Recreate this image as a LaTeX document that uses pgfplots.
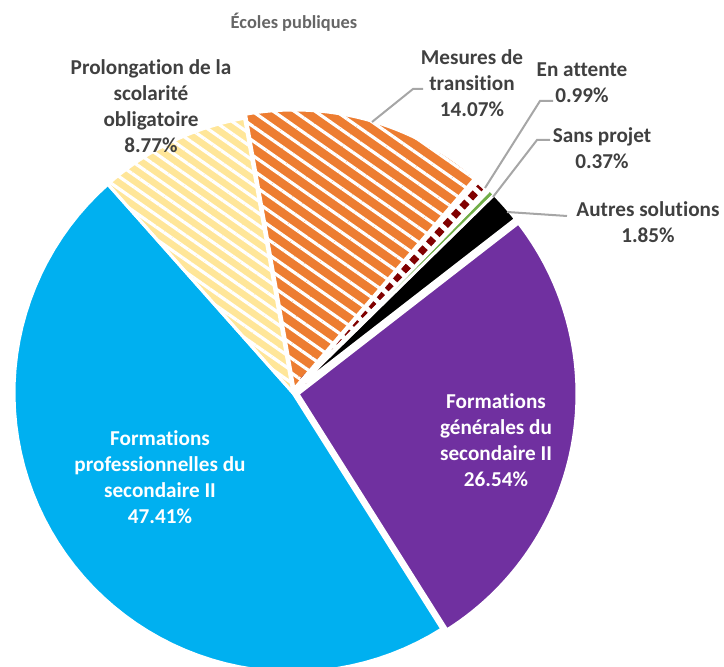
\documentclass[border=0pt]{standalone}
\usepackage{pgfplots}
\pgfplotsset{compat=1.18}
\usepackage{pgfplotstable}
\usetikzlibrary{patterns.meta}
\usepackage{fontspec}
\setmainfont[Ligatures=NoCommon]{Carlito}
\definecolor{cblue}{HTML}{00B0F0}
\definecolor{cpurple}{HTML}{7030A0}
\definecolor{corange}{HTML}{ED7D31}
\definecolor{cyellow}{HTML}{FFE699}
\definecolor{cred}{HTML}{800000}
\definecolor{cgreen}{HTML}{70AD47}
\definecolor{ctext}{HTML}{404040}
\definecolor{ctitle}{HTML}{666666}
\definecolor{cline}{HTML}{A6A6A6}

\pgfplotstableread{
value
14.07
0.99
0.37
1.85
26.54
47.41
8.77
}\piedata

\def\cx{293}\def\cy{274}\def\R{279}
\newcommand{\slicepath}[5]{%
  \path[#5] ({\cx+#3},{\cy+#4}) -- plot[domain=#1:#2,samples=60,variable=\t] ({\cx+#3+\R*cos(\t)},{\cy+#4+\R*sin(\t)}) -- cycle;}

\begin{document}
\begin{tikzpicture}
\path[use as bounding box] (0,0) rectangle (362pt,333.5pt);
\def\aS{100}
\pgfplotstablegetelem{0}{value}\of\piedata \pgfmathsetmacro\aA{\aS-3.6*\pgfplotsretval}
\pgfplotstablegetelem{1}{value}\of\piedata \pgfmathsetmacro\aB{\aA-3.6*\pgfplotsretval}
\pgfplotstablegetelem{2}{value}\of\piedata \pgfmathsetmacro\aC{\aB-3.6*\pgfplotsretval}
\pgfplotstablegetelem{3}{value}\of\piedata \pgfmathsetmacro\aD{\aC-3.6*\pgfplotsretval}
\pgfplotstablegetelem{4}{value}\of\piedata \pgfmathsetmacro\aE{\aD-3.6*\pgfplotsretval}
\pgfplotstablegetelem{5}{value}\of\piedata \pgfmathsetmacro\aF{\aE-3.6*\pgfplotsretval}
\pgfplotstablegetelem{6}{value}\of\piedata \pgfmathsetmacro\aG{\aF-3.6*\pgfplotsretval}
\pgfmathsetmacro\aMid{(\aA+\aB)/2}
\begin{axis}[x=0.5pt,y=0.5pt,xmin=0,xmax=724,ymin=0,ymax=667,hide axis,clip=true,
  at={(0,0)},anchor=south west]
% fills
\slicepath{\aS}{\aA}{1}{4}{fill=corange,postaction={pattern={Lines[angle=-35,distance=6pt,line width=1.6pt]},pattern color=white}}
\slicepath{\aA}{\aB}{2}{3}{fill=white}
\slicepath{\aB}{\aC}{2}{3}{fill=cgreen}
\slicepath{\aC}{\aD}{2}{3}{fill=black}
\slicepath{\aD}{\aE}{5}{-1}{fill=cpurple}
\slicepath{\aE}{\aF}{0}{0}{fill=cblue}
\slicepath{\aF}{\aG}{0}{0}{fill=cyellow,postaction={pattern={Lines[angle=-35,distance=5pt,line width=1.6pt]},pattern color=white}}
% dashed slice
\draw[cred,line width=3.6pt,dash pattern=on 3.6pt off 2.6pt]
  ({\cx+2+12*cos(\aMid)},{\cy+3+12*sin(\aMid)}) -- ({\cx+2+(\R-4)*cos(\aMid)},{\cy+3+(\R-4)*sin(\aMid)});
% borders
\slicepath{\aS}{\aA}{1}{4}{draw=white,line width=1.5pt}
\slicepath{\aA}{\aB}{2}{3}{draw=white,line width=1.5pt}
\slicepath{\aB}{\aC}{2}{3}{draw=white,line width=1.2pt}
\slicepath{\aC}{\aD}{2}{3}{draw=white,line width=1.5pt}
\slicepath{\aD}{\aE}{5}{-1}{draw=white,line width=1.5pt}
\slicepath{\aE}{\aF}{0}{0}{draw=white,line width=1.5pt}
\slicepath{\aF}{\aG}{0}{0}{draw=white,line width=1.5pt}
% leader lines
\draw[cline,line width=1pt] (372,545) -- (413,578) -- (423,578);
\draw[cline,line width=1pt] (485,479) -- (540,566) -- (553,566);
\draw[cline,line width=1pt] (493,470) -- (537,527) -- (550,527);
\draw[cline,line width=1pt] (507,455) -- (567,451);
% labels
\tikzset{lab/.style={align=center,font=\fontsize{10.6}{13}\selectfont\bfseries,text=ctext,inner sep=0pt}}
\node[align=center,font=\fontsize{9.2}{11}\selectfont\bfseries,text=ctitle] at (294,645) {Écoles publiques};
\node[lab] at (151,561) {Prolongation de la\\scolarité\\obligatoire\\8.77\%};
\node[lab] at (472,584) {Mesures de\\transition\\14.07\%};
\node[lab] at (582,584) {En attente\\0.99\%};
\node[lab] at (602,519) {Sans projet\\0.37\%};
\node[lab] at (648,445) {Autres solutions\\1.85\%};
\node[lab,text=white] at (496,227) {Formations\\générales du\\secondaire II\\26.54\%};
\node[lab,text=white] at (160,190) {Formations\\professionnelles du\\secondaire II\\47.41\%};
\end{axis}
\end{tikzpicture}
\end{document}
